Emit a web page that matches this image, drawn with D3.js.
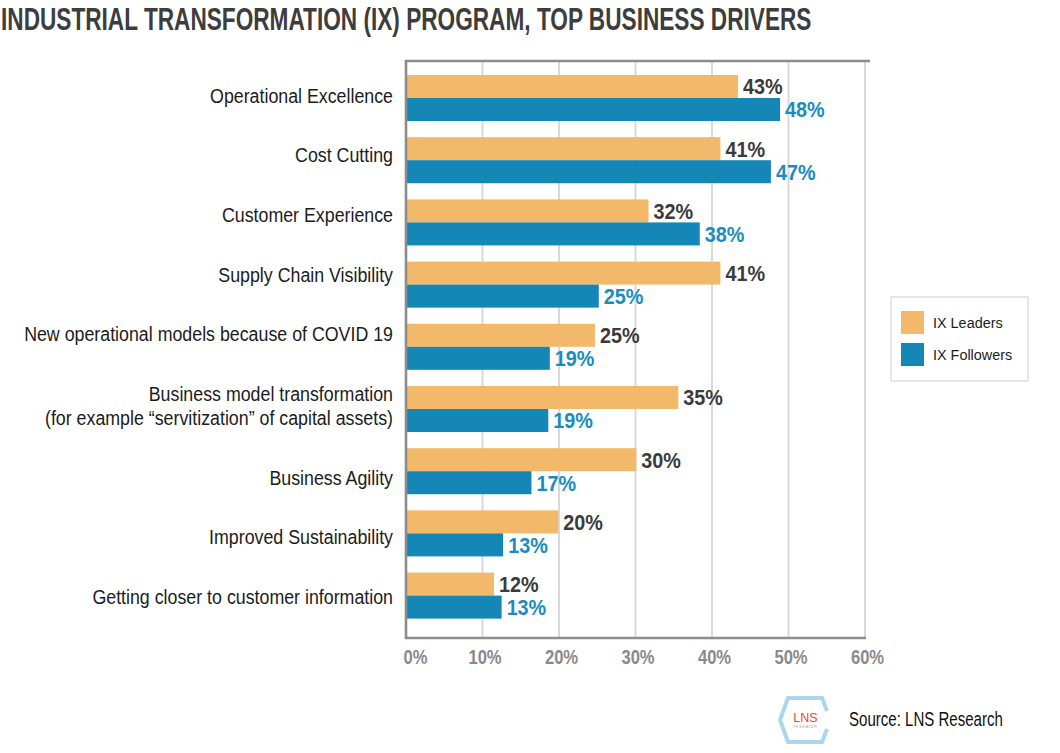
<!DOCTYPE html>
<html>
<head>
<meta charset="utf-8">
<script src="https://cdn.jsdelivr.net/npm/d3@7"></script>
<style>
  html, body { margin: 0; padding: 0; background: #fff; }
  svg { display: block; }
  text { font-family: "Liberation Sans", Arial, Helvetica, sans-serif; }
</style>
</head>
<body>
<svg id="chart" width="1060" height="753"></svg>
<script>
// ---------- data ----------
const title = "INDUSTRIAL TRANSFORMATION (IX) PROGRAM, TOP BUSINESS DRIVERS";
const categories = [
  "Operational Excellence",
  "Cost Cutting",
  "Customer Experience",
  "Supply Chain Visibility",
  "New operational models because of COVID 19",
  "Business model transformation\n(for example “servitization” of capital assets)",
  "Business Agility",
  "Improved Sustainability",
  "Getting closer to customer information"
];
const seriesNames = ["IX Leaders", "IX Followers"];
const leaders   = [43.4, 41.1, 31.7, 41.1, 24.7, 35.6, 30.1, 19.9, 11.5];
const followers = [48.9, 47.7, 38.4, 25.2, 18.8, 18.6, 16.4, 12.7, 12.5];
const leaderLabels   = ["43%", "41%", "32%", "41%", "25%", "35%", "30%", "20%", "12%"];
const followerLabels = ["48%", "47%", "38%", "25%", "19%", "19%", "17%", "13%", "13%"];
const xTicks = [0, 10, 20, 30, 40, 50, 60];
const xTickLabels = ["0%", "10%", "20%", "30%", "40%", "50%", "60%"];
const sourceText = "Source: LNS Research";

// ---------- styles ----------
const colors = { leaders: "#F2B96B", followers: "#1487B6" };
const labelColors = { leaders: "#3b3b3b", followers: "#1a8cc0" };
const condensed = 0.89;   // horizontal squeeze to mimic a condensed face

const svg = d3.select("#chart");

// fit a text horizontally into a target width (scale x only)
function fitWidth(sel, tx, ty, target) {
  const w = sel.node().getComputedTextLength();
  sel.attr("transform", `translate(${tx},${ty}) scale(${target / w},1)`);
}

// ---------- layout ----------
const plot = { left: 406, right: 865, top: 61, bottom: 638 };

const x = d3.scaleLinear().domain([0, 60]).range([plot.left, plot.right]);
const y = d3.scaleBand().domain(categories).range([61, 632.6]).paddingInner(0.26).paddingOuter(0.225);
const sub = d3.scaleBand().domain(["leaders", "followers"]).range([0, y.bandwidth()]);

// title
const tt = svg.append("text")
  .style("font-size", "31px").style("font-weight", "bold").style("fill", "#3d3d3d")
  .text(title);
fitWidth(tt, 1, 29.5, 811);

// gridlines
svg.append("g").selectAll("line")
  .data(xTicks.filter(d => d > 0))
  .join("line")
  .attr("x1", d => x(d)).attr("x2", d => x(d))
  .attr("y1", plot.top).attr("y2", plot.bottom)
  .attr("stroke", "#d9d9d9").attr("stroke-width", 2);

// bars
const rows = categories.map((c, i) => ({ c, i, leaders: leaders[i], followers: followers[i] }));
const g = svg.append("g");
["leaders", "followers"].forEach(key => {
  g.append("g").selectAll("rect")
    .data(rows)
    .join("rect")
    .attr("x", x(0))
    .attr("y", d => y(d.c) + sub(key))
    .attr("width", d => x(d[key]) - x(0))
    .attr("height", sub.bandwidth())
    .attr("fill", colors[key]);
});

// frame (left, top, bottom)
svg.append("path")
  .attr("d", `M${plot.right + 5},${plot.top} H${plot.left} V${plot.bottom} H${plot.right + 1}`)
  .attr("fill", "none").attr("stroke", "#8c8c8c").attr("stroke-width", 2.6);

// value labels
[["leaders", leaderLabels], ["followers", followerLabels]].forEach(([key, labels]) => {
  svg.append("g").selectAll("text")
    .data(rows)
    .join("text")
    .attr("transform", d => `translate(${x(d[key]) + 5},${y(d.c) + sub(key) + sub.bandwidth() / 2}) scale(0.9,1)`)
    .attr("dy", "0.36em")
    .style("font-size", "22px").style("font-weight", "bold")
    .style("fill", labelColors[key])
    .text(d => labels[d.i]);
});

// category labels (laid out like a text box: paragraph step + extra line height)
const paraStep = 59.65, lineH = 24, firstLine = 95.5;
let extra = 0;
const catG = svg.append("g").attr("transform", `translate(393,0) scale(${condensed},1)`);
categories.forEach((c, i) => {
  const lines = c.split("\n");
  const t = catG.append("text")
    .attr("text-anchor", "end")
    .style("font-size", "20px")
    .style("fill", "#1c1c1c");
  lines.forEach((ln, k) => {
    t.append("tspan")
      .attr("x", 0)
      .attr("y", firstLine + i * paraStep + (extra + k) * lineH)
      .attr("dy", "0.36em")
      .text(ln);
  });
  extra += lines.length - 1;
});

// x axis tick labels
const xAxis = d3.axisBottom(x).tickValues(xTicks).tickSize(0).tickPadding(0)
  .tickFormat((d, i) => xTickLabels[i]);
const xg = svg.append("g").attr("transform", `translate(0,${plot.bottom})`).call(xAxis);
xg.select(".domain").remove();
xg.selectAll("text")
  .attr("y", 0).attr("dy", "0.36em")
  .attr("transform", d => `translate(${d === 0 ? 9 : 2},19) scale(0.83,1)`)
  .style("font-family", "'Liberation Sans', Arial, sans-serif")
  .style("font-size", "20px").style("font-weight", "bold")
  .style("fill", "#8a8a8a");

// legend
const lg = svg.append("g");
lg.append("rect")
  .attr("x", 891).attr("y", 297).attr("width", 137).attr("height", 84)
  .attr("fill", "#fff").attr("stroke", "#dedede").attr("stroke-width", 1.5);
const legendY = d3.scalePoint().domain(["leaders", "followers"]).range([322.5, 354.5]);
["leaders", "followers"].forEach((key, i) => {
  lg.append("rect")
    .attr("x", 901).attr("y", legendY(key) - 11.5)
    .attr("width", 23).attr("height", 23)
    .attr("fill", colors[key]);
  lg.append("text")
    .attr("transform", `translate(933,${legendY(key)}) scale(0.93,1)`)
    .attr("dy", "0.36em")
    .style("font-size", "15.5px").style("fill", "#1c1c1c")
    .text(seriesNames[i]);
});

// logo
const logo = svg.append("g");
logo.append("path")
  .attr("d", "M827,711 L822,698 L788,698 L780,720 L788,742 L822,742 L827,729")
  .attr("fill", "none").attr("stroke", "#acd6ec").attr("stroke-width", 4)
  .attr("stroke-linejoin", "miter");
logo.append("text")
  .attr("x", 805.5).attr("y", 721.5).attr("text-anchor", "middle")
  .style("font-size", "12.5px").style("fill", "#e8472b")
  .text("LNS");
logo.append("text")
  .attr("x", 805.5).attr("y", 727.5).attr("text-anchor", "middle")
  .style("font-size", "4.5px").style("letter-spacing", "0.8px").style("fill", "#e88a78")
  .text("research");

// source
const st = svg.append("text")
  .attr("dy", "0.36em")
  .style("font-size", "19.5px").style("fill", "#111")
  .text(sourceText);
fitWidth(st, 849, 719, 154);
</script>
</body>
</html>
